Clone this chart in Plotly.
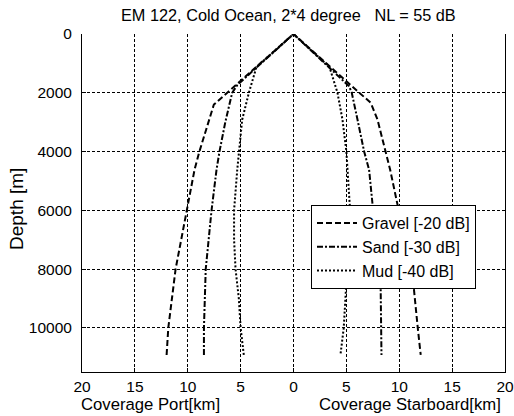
import plotly.graph_objects as go

# ---- data (depth in m, coverage in km) ----
gravel_port_depth = [0, 2400, 4000, 4620, 6000, 8000, 10000, 10920]
gravel_port_cov = [0, 7.53, 8.9, 9.36, 10.05, 11.15, 11.84, 12.0]
gravel_stbd_depth = [0, 2345, 2910, 4000, 4620, 6000, 8000, 10000, 10920]
gravel_stbd_cov = [0, 7.31, 7.94, 8.67, 9.14, 9.95, 11.2, 11.75, 12.03]

sand_port_depth = [0, 1730, 2000, 3000, 4000, 4620, 6000, 8000, 10000, 10920]
sand_port_cov = [0, 5.3, 5.8, 6.45, 7.0, 7.28, 7.75, 8.3, 8.47, 8.47]
sand_stbd_depth = [0, 1780, 2000, 2910, 4000, 4620, 6000, 8000, 10000, 10920]
sand_stbd_cov = [0, 5.26, 5.51, 6.05, 6.68, 7.15, 7.53, 8.22, 8.32, 8.32]

mud_port_depth = [0, 1120, 2000, 2910, 4000, 4620, 6000, 7000, 8000, 9000, 10000, 10920]
mud_port_cov = [0, 3.5, 4.22, 4.85, 5.17, 5.32, 5.62, 5.62, 5.48, 5.17, 5.0, 4.7]
mud_stbd_depth = [0, 1120, 2000, 2910, 4000, 4620, 6000, 7000, 8000, 9000, 10000, 10920]
mud_stbd_cov = [0, 3.4, 4.16, 4.63, 5.0, 5.1, 5.35, 5.23, 5.08, 4.91, 4.75, 4.44]

series_names = ["Gravel [-20 dB]", "Sand [-30 dB]", "Mud [-40 dB]"]
x_tickvals = [-20, -15, -10, -5, 0, 5, 10, 15, 20]
x_ticktext = ["20", "15", "10", "5", "0", "5", "10", "15", "20"]
y_tickvals = [0, 2000, 4000, 6000, 8000, 10000]
y_ticktext = ["0", "2000", "4000", "6000", "8000", "10000"]

title_text = "EM 122, Cold Ocean, 2*4 degree\u00a0\u00a0\u00a0NL = 55 dB"

FONT = "Liberation Sans, Arial, sans-serif"

# plot area in pixels
L, R, T, B = 82, 505, 34, 372
W, H = R - L, B - T


def px_x(px):
    return (px - L) / W


def px_y(py):
    return 1 - (py - T) / H


def combine(pd, pc, sd, sc):
    xs = [-c for c in reversed(pc)] + list(sc[1:])
    ys = list(reversed(pd)) + list(sd[1:])
    return xs, ys


fig = go.Figure()
specs = [
    (gravel_port_depth, gravel_port_cov, gravel_stbd_depth, gravel_stbd_cov, "6px,3px"),
    (sand_port_depth, sand_port_cov, sand_stbd_depth, sand_stbd_cov, "6px,2px,2px,2px"),
    (mud_port_depth, mud_port_cov, mud_stbd_depth, mud_stbd_cov, "2px,2px"),
]
for name, (pd_, pc, sd, sc, dash) in zip(series_names, specs):
    xs, ys = combine(pd_, pc, sd, sc)
    fig.add_trace(go.Scatter(x=xs, y=ys, mode="lines", name=name,
                             line=dict(color="black", width=2, dash=dash)))

fig.update_layout(
    template="none",
    width=514, height=416,
    margin=dict(l=L, r=514 - R, t=T, b=416 - B, autoexpand=False),
    paper_bgcolor="white", plot_bgcolor="white",
    font=dict(family=FONT, size=15, color="black"),
    showlegend=True,
    legend=dict(x=px_x(311), y=px_y(205), xanchor="left", yanchor="top",
                bgcolor="white", bordercolor="black", borderwidth=1,
                font=dict(size=16, family=FONT, color="black"), tracegroupgap=0,
                itemwidth=40),
)

fig.update_xaxes(range=[-20, 20], tickvals=x_tickvals, ticktext=x_ticktext,
                 showgrid=True, gridcolor="black", griddash="3px,2px", gridwidth=1,
                 showline=True, linecolor="black", linewidth=1, mirror=False,
                 ticks="inside", ticklen=4, tickcolor="black", automargin=False,
                 zeroline=False, tickfont=dict(size=15.5, color="black"))
fig.update_yaxes(range=[11500, 0], tickvals=y_tickvals, ticktext=y_ticktext,
                 showgrid=True, gridcolor="black", griddash="3px,2px", gridwidth=1,
                 showline=True, linecolor="black", linewidth=1, mirror=True,
                 ticks="inside", ticklen=4, tickcolor="black", automargin=False,
                 ticklabelstandoff=6,
                 zeroline=False, tickfont=dict(size=15.5, color="black"))

# title
fig.add_annotation(text=title_text, xref="paper", yref="paper",
                   x=px_x(288), y=px_y(15),
                   xanchor="center", yanchor="middle", showarrow=False,
                   font=dict(size=16.3, family=FONT))
# y label
fig.add_annotation(text="Depth [m]", xref="paper", yref="paper",
                   x=px_x(16), y=px_y(209),
                   xanchor="center", yanchor="middle", showarrow=False,
                   textangle=-90, font=dict(size=19, family=FONT))
# x labels
fig.add_annotation(text="Coverage Port[km]", xref="paper", yref="paper",
                   x=px_x(150), y=px_y(404),
                   xanchor="center", yanchor="middle", showarrow=False,
                   font=dict(size=16.7, family=FONT))
fig.add_annotation(text="Coverage Starboard[km]", xref="paper", yref="paper",
                   x=px_x(410), y=px_y(404),
                   xanchor="center", yanchor="middle", showarrow=False,
                   font=dict(size=16.7, family=FONT))

fig.write_html("out.html")
